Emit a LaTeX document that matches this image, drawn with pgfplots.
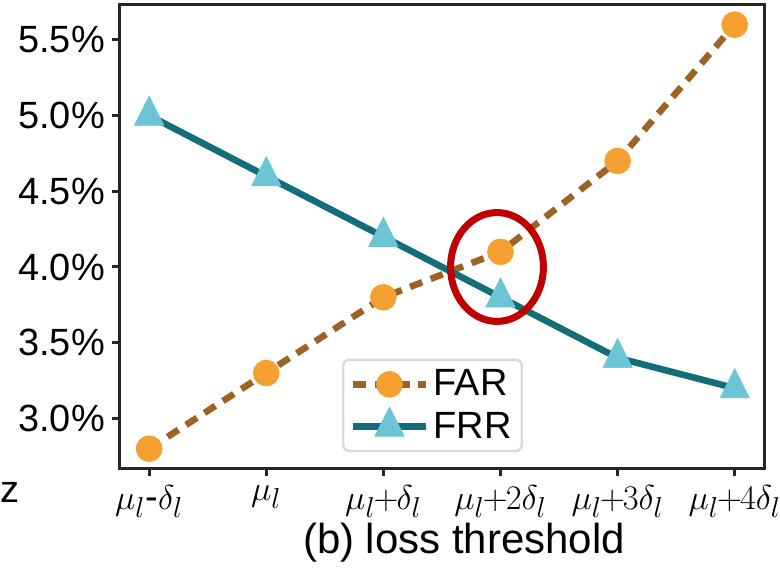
\documentclass[border=0pt]{standalone}
\usepackage{fontspec}
\setmainfont{Liberation Sans}
\usepackage{pgfplots}
\pgfplotsset{compat=1.18}
\usetikzlibrary{calc}
\definecolor{farline}{RGB}{158,99,36}
\definecolor{farmark}{RGB}{245,160,48}
\definecolor{frrline}{RGB}{20,110,122}
\definecolor{frrmark}{RGB}{108,197,213}
\definecolor{axgray}{RGB}{38,38,38}
\definecolor{hilite}{RGB}{192,0,0}

\begin{document}
\begin{tikzpicture}
\begin{axis}[
  name=ax,
  scale only axis,
  width=322.5pt,
  height=232pt,
  xmin=-0.25, xmax=5.25,
  ymin=2.67, ymax=5.73,
  clip=false,
  xtick={0,1,2,3,4,5},
  xticklabels={$\mu_l$-$\delta_l$, $\mu_l$, $\mu_l\mkern-1mu{+}\mkern-1mu\delta_l$, $\mu_l\mkern-1mu{+}\mkern-1mu2\delta_l$, $\mu_l\mkern-1mu{+}\mkern-1mu3\delta_l$, $\mu_l\mkern-1mu{+}\mkern-1mu4\delta_l$},
  ytick={3.0,3.5,4.0,4.5,5.0,5.5},
  yticklabel={\pgfmathprintnumber[fixed,fixed zerofill,precision=1]{\tick}\%},
  /pgf/number format/assume math mode=true,
  tick pos=left,
  tick align=outside,
  major tick length=4pt,
  every tick/.style={axgray, line width=1.5pt},
  axis line style={axgray, line width=1.5pt},
  tick label style={font=\fontsize{19}{22}\selectfont},
  xticklabel style={font=\fontsize{19}{22}\selectfont, yshift=-1pt},
  xlabel={(b) loss threshold},
  xlabel style={font=\fontsize{21}{24}\selectfont, xshift=11pt, yshift=4pt},
  legend style={
    at={(0.345,0.035)}, anchor=south west,
    draw=gray!30, line width=1.2pt, rounded corners=3pt,
    font=\fontsize{19}{22}\selectfont,
    inner sep=3pt, row sep=2pt,
  },
  legend cell align=left,
  legend image code/.code={
    \draw[mark repeat=2, mark phase=2, #1] plot coordinates {(0cm,0cm) (0.65cm,0cm) (1.3cm,0cm)};
  },
]
\addplot[farline, line width=3.3pt, dash pattern=on 6.5pt off 4.5pt,
  mark=*, mark size=6.5pt, mark options={solid, draw=farmark, fill=farmark, line width=0.3pt}]
  coordinates {(0,2.8) (1,3.3) (2,3.8) (3,4.1) (4,4.7) (5,5.6)};
\addlegendentry{FAR}
\addplot[frrline, line width=3.3pt,
  mark=triangle*, mark size=8.5pt, mark options={solid, draw=frrmark, fill=frrmark, line width=0.3pt, yscale=1.15}]
  coordinates {(0,5.0) (1,4.6) (2,4.2) (3,3.8) (4,3.4) (5,3.2)};
\addlegendentry{FRR}
\draw[hilite, line width=3.5pt] (axis cs:2.97,4.0) ellipse [x radius=23.25pt, y radius=27.25pt];
\end{axis}
\node[font=\fontsize{19}{22}\selectfont, anchor=west, inner sep=0pt] at ($(ax.south west)+(-60pt,-12pt)$) {z};
\pgfresetboundingbox
\path[use as bounding box] ($(ax.south west)+(-60pt,-49.5pt)$) rectangle ($(ax.north east)+(8pt,2.5pt)$);
\end{tikzpicture}
\end{document}
